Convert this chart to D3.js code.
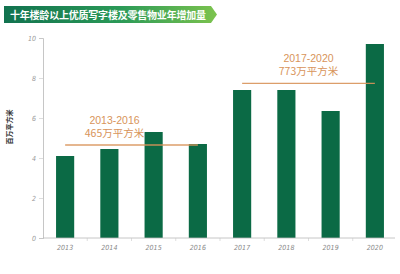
<!DOCTYPE html>
<html>
<head>
<meta charset="utf-8">
<script src="https://cdn.jsdelivr.net/npm/d3@7"></script>
<style>
  html, body { margin: 0; padding: 0; background: #ffffff; }
  svg { display: block; }
</style>
</head>
<body>
<svg id="chart" width="400" height="274"></svg>
<script>
// Annual additions, million m²
const years = ["2013", "2014", "2015", "2016", "2017", "2018", "2019", "2020"];
const values = [4.1, 4.45, 5.3, 4.7, 7.4, 7.4, 6.35, 9.7];
const yTicks = [0, 2, 4, 6, 8, 10];

// Period averages
const periodNames = ["2013-2016", "2017-2020"];
const periodStart = ["2013", "2017"];
const periodEnd = ["2016", "2020"];
const periodAvg = [4.65, 7.73];
const periodText = ["465万平方米", "773万平方米"];

const titleText = "十年楼龄以上优质写字楼及零售物业年增加量";
const yAxisTitle = "百万平方米";

const svg = d3.select("#chart");
const cjk = "'Noto Sans CJK SC', 'Noto Sans', sans-serif";
const tickFont = "'Liberation Sans Narrow', 'DejaVu Sans Condensed', 'Liberation Sans', sans-serif";

const x = d3.scaleBand().domain(years).range([43, 397]).paddingInner(0.59).paddingOuter(0.295);
const y = d3.scaleLinear().domain([0, 10]).range([238, 38]);

// Title banner with arrow tip
const grad = svg.append("defs").append("linearGradient")
  .attr("id", "bannerGrad").attr("x1", "0%").attr("x2", "100%");
grad.append("stop").attr("offset", "0%").attr("stop-color", "#11724f");
grad.append("stop").attr("offset", "55%").attr("stop-color", "#2b9a57");
grad.append("stop").attr("offset", "100%").attr("stop-color", "#7cc34e");
svg.append("path")
  .attr("d", "M4,6 L211,6 L217,14.5 L211,23 L4,23 Z")
  .attr("fill", "url(#bannerGrad)");
svg.append("text")
  .attr("x", 10).attr("y", 18.5)
  .attr("fill", "#ffffff")
  .attr("font-family", cjk).attr("font-size", 10).attr("font-weight", "bold")
  .attr("textLength", 196)
  .text(titleText);

// Y axis
const yAxis = svg.append("g").attr("transform", "translate(43,0)")
  .call(d3.axisLeft(y).tickValues(yTicks).tickSize(4).tickPadding(3));
yAxis.select(".domain").attr("stroke", "#b8b8b8").attr("stroke-width", 0.8);
yAxis.selectAll(".tick line").attr("stroke", "#c8c8c8").attr("stroke-width", 0.6);
yAxis.selectAll(".tick text")
  .attr("fill", "#999").attr("font-family", tickFont).attr("font-size", 7).attr("font-style", "italic");

svg.append("text")
  .attr("transform", "translate(12,127) rotate(-90)")
  .attr("text-anchor", "middle")
  .attr("fill", "#333")
  .attr("font-family", cjk).attr("font-size", 7).attr("font-weight", "bold")
  .text(yAxisTitle);

// Bars
svg.append("g").selectAll("rect").data(values).join("rect")
  .attr("x", (d, i) => x(years[i]))
  .attr("width", x.bandwidth())
  .attr("y", d => y(d))
  .attr("height", d => y(0) - y(d))
  .attr("fill", "#0b6a45");

// X axis with ticks between categories
const base = y(0);
svg.append("line")
  .attr("x1", 43).attr("x2", 395).attr("y1", base).attr("y2", base)
  .attr("stroke", "#b8b8b8").attr("stroke-width", 0.8);
const step = x.step();
svg.append("g").selectAll("line").data(years.slice(1)).join("line")
  .attr("x1", d => x(d) - (step - x.bandwidth()) / 2)
  .attr("x2", d => x(d) - (step - x.bandwidth()) / 2)
  .attr("y1", base).attr("y2", base + 3)
  .attr("stroke", "#c8c8c8").attr("stroke-width", 0.6);
svg.append("g").selectAll("text").data(years).join("text")
  .attr("x", d => x(d) + x.bandwidth() / 2)
  .attr("y", 250)
  .attr("text-anchor", "middle")
  .attr("fill", "#888")
  .attr("font-family", tickFont).attr("font-size", 7).attr("font-style", "italic")
  .text(d => d);

// Period average lines and labels
const orange = "#d8945a";
const labelShift = [-17, 0];
periodNames.forEach((name, i) => {
  const x1 = x(periodStart[i]) + x.bandwidth() / 2;
  const x2 = x(periodEnd[i]) + x.bandwidth() / 2;
  const yy = y(periodAvg[i]);
  svg.append("line")
    .attr("x1", x1).attr("x2", x2).attr("y1", yy).attr("y2", yy)
    .attr("stroke", orange).attr("stroke-width", 1.4).attr("stroke-opacity", 0.9);
  const cx = (x1 + x2) / 2 + labelShift[i];
  svg.append("text")
    .attr("x", cx).attr("y", yy - 21)
    .attr("text-anchor", "middle").attr("fill", orange)
    .attr("font-family", "'Liberation Sans', Arial, sans-serif").attr("font-size", 10.5)
    .text(name);
  svg.append("text")
    .attr("x", cx).attr("y", yy - 8)
    .attr("text-anchor", "middle").attr("fill", orange)
    .attr("font-family", cjk).attr("font-size", 10.5)
    .text(periodText[i]);
});
</script>
</body>
</html>
